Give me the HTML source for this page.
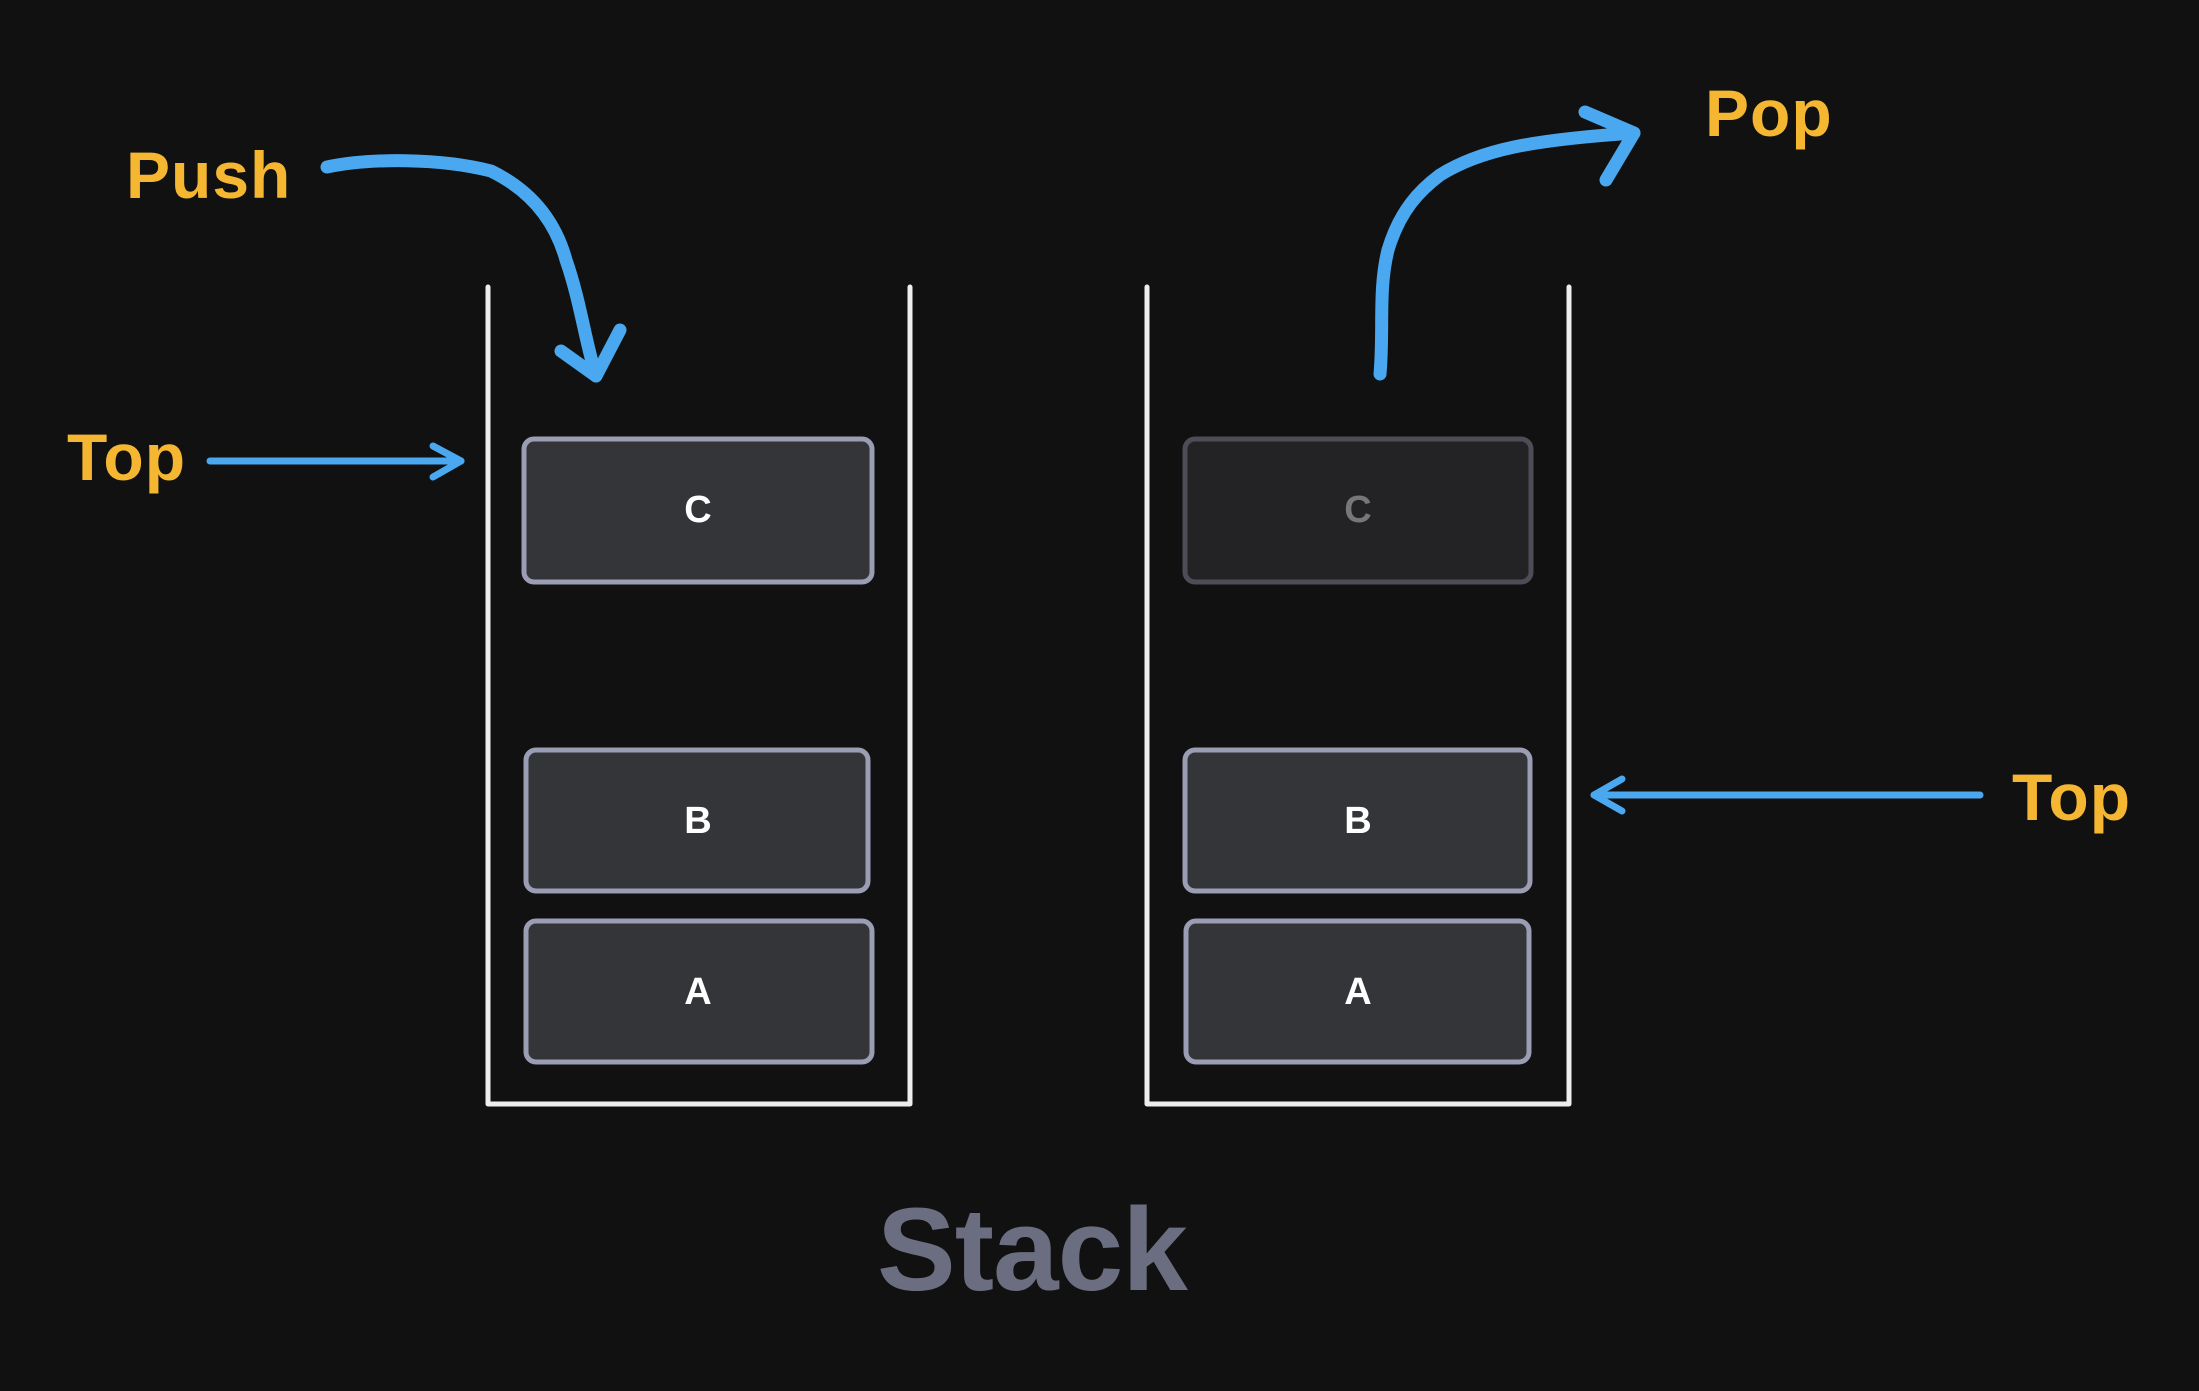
<!DOCTYPE html>
<html><head><meta charset="utf-8"><style>
html,body{margin:0;padding:0;background:#111111;}
svg{display:block}
text{font-family:"Liberation Sans",sans-serif;font-weight:bold}
</style></head><body>
<svg width="2199" height="1391" viewBox="0 0 2199 1391" xmlns="http://www.w3.org/2000/svg">
<rect width="2199" height="1391" fill="#111111"/>
<polyline points="488,287 488,1104 910,1104 910,287" fill="none" stroke="#eeeeee" stroke-width="5" stroke-linecap="round" stroke-linejoin="round"/>
<polyline points="1147,287 1147,1104 1569,1104 1569,287" fill="none" stroke="#eeeeee" stroke-width="5" stroke-linecap="round" stroke-linejoin="round"/>
<g stroke="#9a9db3" stroke-width="5" fill="#343539">
<rect x="524" y="439" width="348" height="143" rx="10"/>
<rect x="526" y="750" width="342" height="141" rx="10"/>
<rect x="526" y="921" width="346" height="141" rx="10"/>
</g>
<rect x="1185" y="439" width="346" height="143" rx="10" fill="#232326" stroke="#4c4d57" stroke-width="5"/>
<g stroke="#9a9db3" stroke-width="5" fill="#343539">
<rect x="1185" y="750" width="345" height="141" rx="10"/>
<rect x="1186" y="921" width="343" height="141" rx="10"/>
</g>
<g font-size="38" text-anchor="middle" fill="#ffffff">
<text x="698" y="522">C</text>
<text x="698" y="833">B</text>
<text x="698" y="1004">A</text>
<text x="1358" y="522" fill="#777777">C</text>
<text x="1358" y="833">B</text>
<text x="1358" y="1004">A</text>
</g>
<g fill="none" stroke="#4aa8f0" stroke-linecap="round" stroke-linejoin="round">
<path d="M327,167 C370,158 440,158 491,171 C530,190 555,220 566,260 C580,300 585,340 596,376" stroke-width="13"/>
<polyline points="561,351 596,376 620,330" stroke-width="13"/>
<path d="M1380,374 C1384,330 1378,290 1388,250 C1400,210 1420,190 1440,175 C1480,150 1530,140 1634,133" stroke-width="13"/>
<polyline points="1585,112 1634,133 1606,180" stroke-width="13"/>
<line x1="210" y1="461" x2="461" y2="461" stroke-width="7"/>
<polyline points="433,446 461,461 433,477" stroke-width="7"/>
<line x1="1980" y1="795" x2="1594" y2="795" stroke-width="7"/>
<polyline points="1622,779 1594,795 1622,811" stroke-width="7"/>
</g>
<g fill="#f5b731" font-size="66" letter-spacing="1">
<text x="126" y="198">Push</text>
<text x="67" y="480">Top</text>
<text x="2012" y="820">Top</text>
<text x="1705" y="136">Pop</text>
</g>
<text x="877" y="1290" font-size="118" fill="#6b6e80" letter-spacing="-1">Stack</text>
</svg>
</body></html>
